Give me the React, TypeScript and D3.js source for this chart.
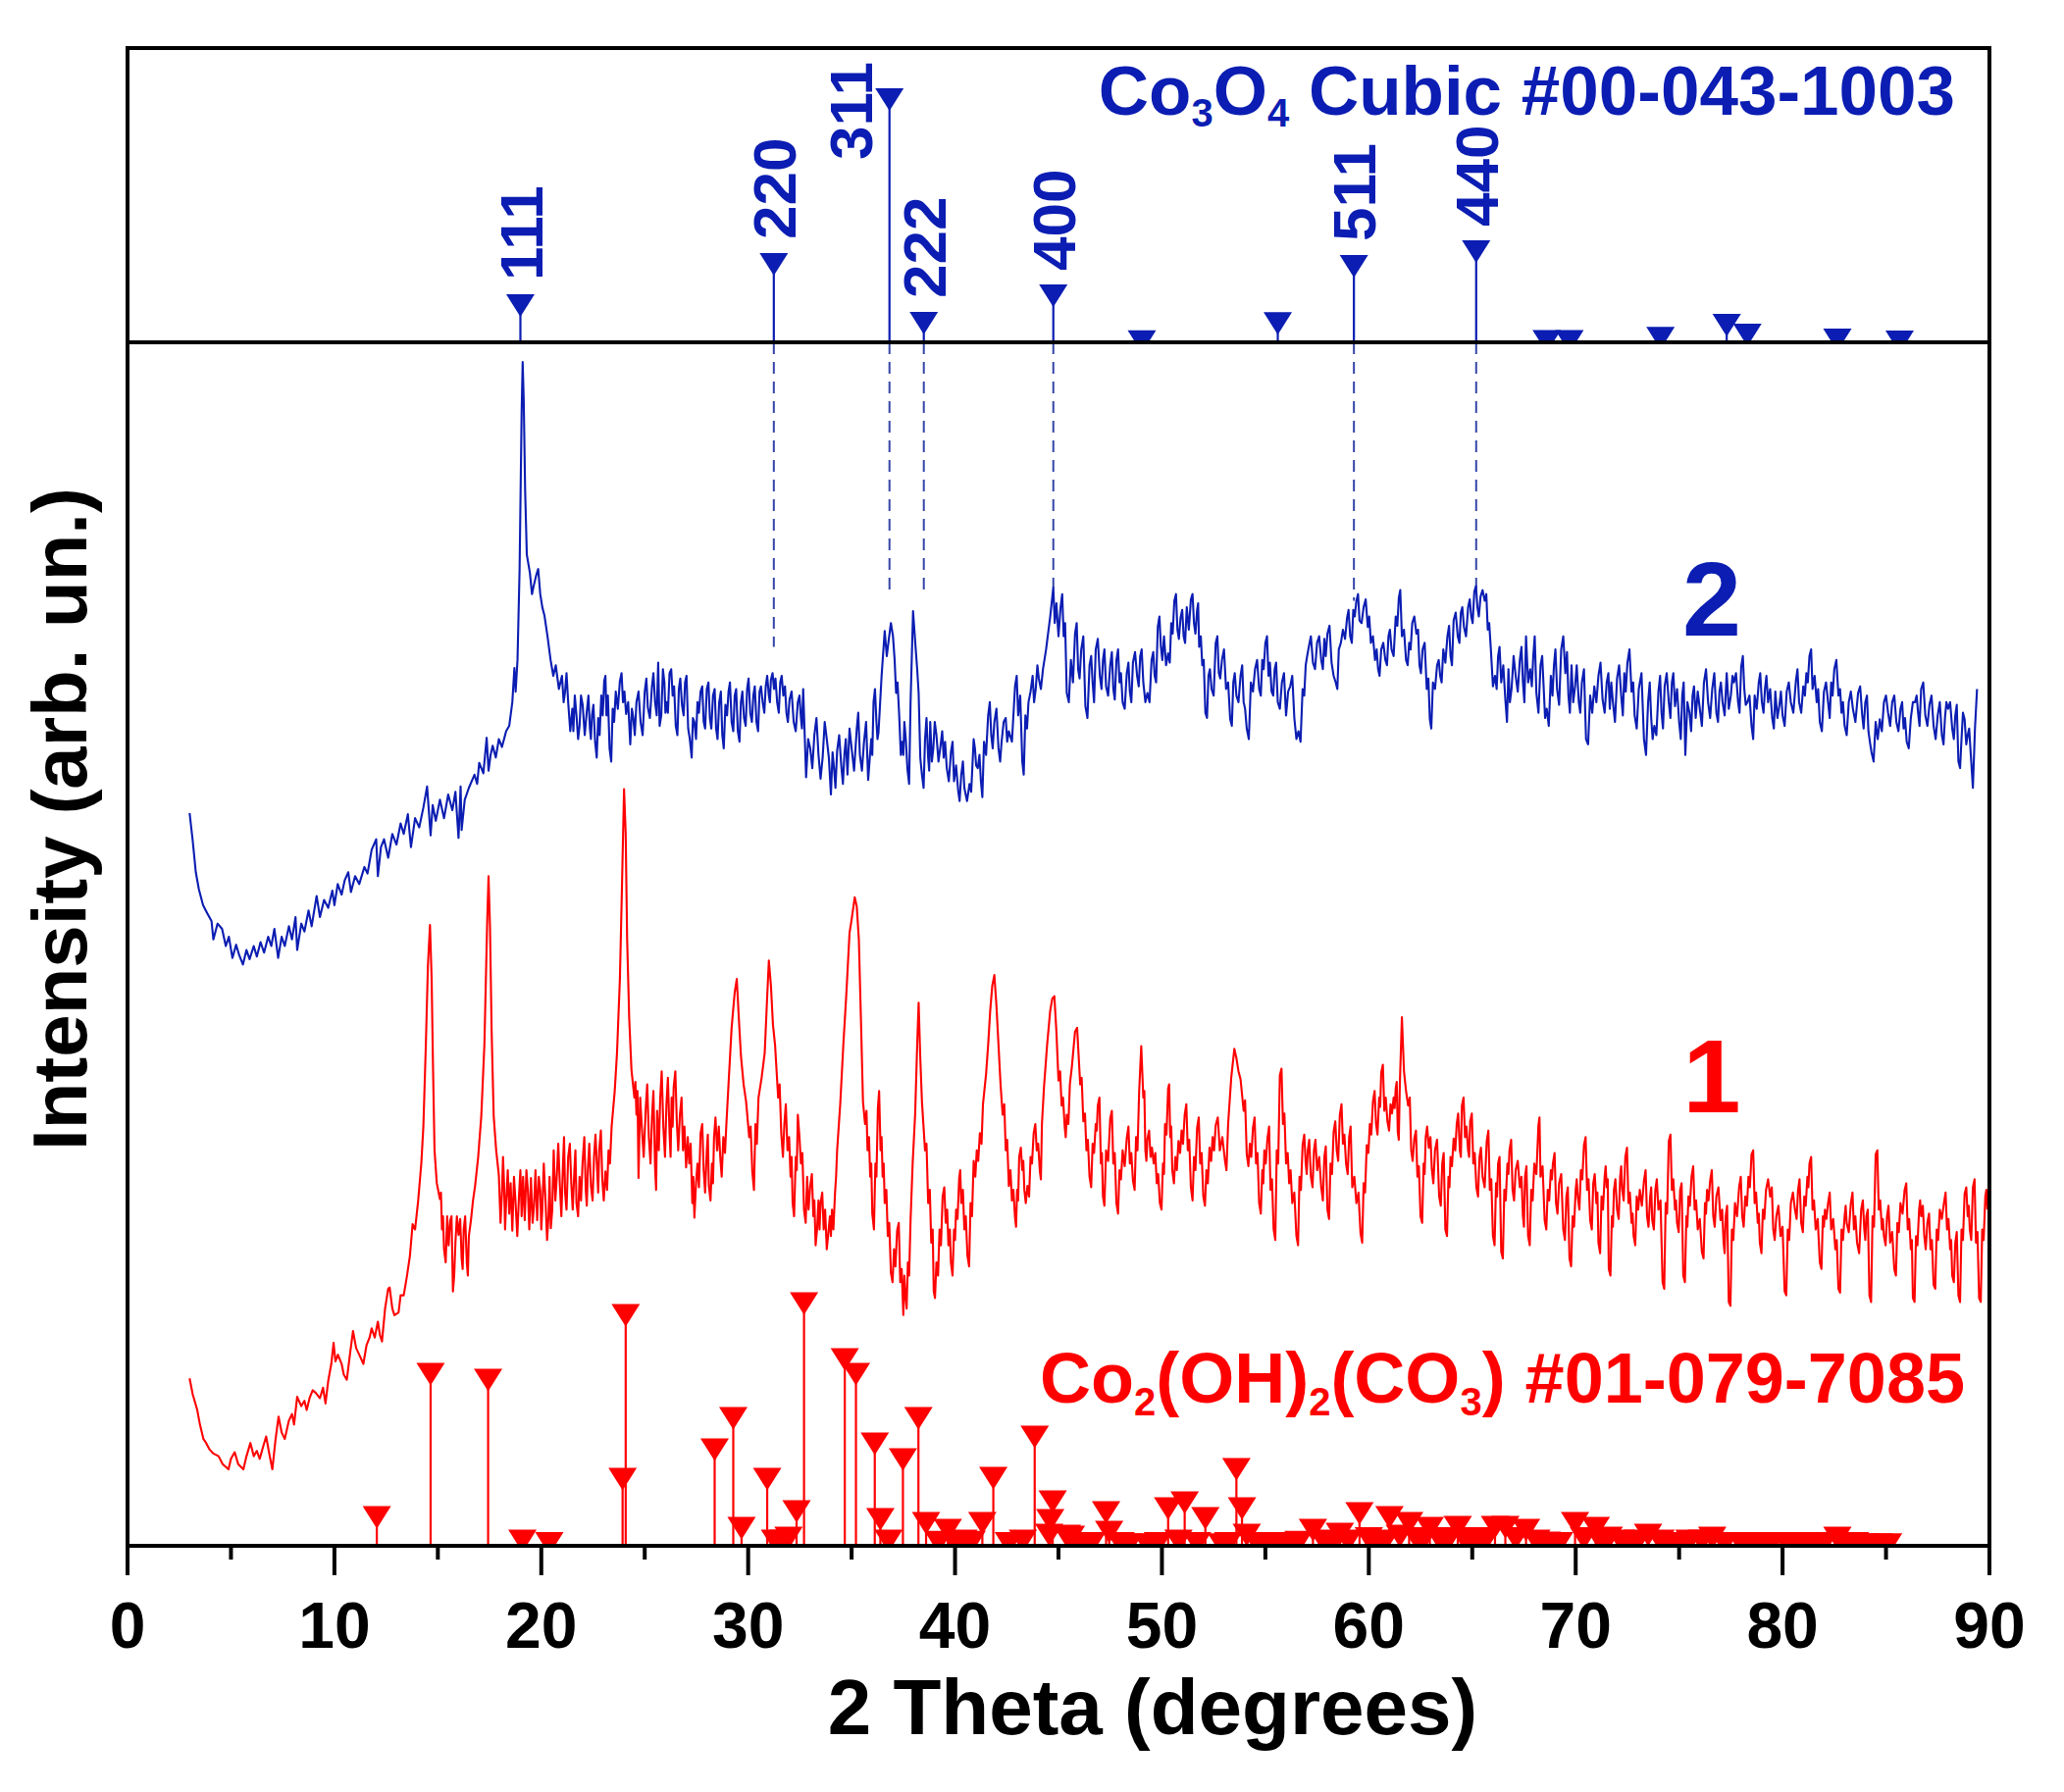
import React from "react";
import * as d3 from "d3";

// ---- sample 2 (Co3O4), 2theta vs intensity (arb. units) ----
const sample2: [number, number][] = [
  [3.0,556],[3.15,535],[3.3,511],[3.45,498],[3.65,486],[3.85,480],[4.06,474],[4.15,460],[4.35,472],[4.57,468],
  [4.75,455],[4.9,462],[5.07,446],[5.25,456],[5.4,448],[5.58,441],[5.75,452],[5.9,445],[6.1,455],[6.25,447],
  [6.43,458],[6.6,450],[6.8,462],[6.95,455],[7.1,468],[7.28,446],[7.45,462],[7.6,455],[7.8,470],[7.95,460],
  [8.12,477],[8.2,452],[8.4,472],[8.55,466],[8.75,482],[8.9,470],[9.14,493],[9.3,477],[9.5,490],[9.7,484],
  [9.9,497],[10.0,486],[10.16,502],[10.35,494],[10.5,505],[10.67,511],[10.8,496],[11.0,508],[11.2,502],[11.45,515],
  [11.6,510],[11.8,528],[12.02,536],[12.1,508],[12.25,530],[12.4,536],[12.6,522],[12.8,540],[13.0,532],[13.2,548],
  [13.35,540],[13.55,555],[13.7,530],[13.9,552],[14.1,545],[14.3,560],[14.48,576],[14.65,539],[14.75,562],[14.9,550],
  [15.1,566],[15.3,552],[15.5,570],[15.7,558],[15.85,572],[16.0,537],[16.1,576],[16.15,543],[16.3,566],[16.5,575],
  [16.77,585],[16.9,578],[17.0,594],[17.2,586],[17.36,613],[17.45,588],[17.55,600],[17.65,607],[17.8,598],[17.95,612],
  [18.1,606],[18.3,618],[18.45,622],[18.6,640],[18.7,666],[18.76,648],[18.85,672],[18.95,740],[19.05,860],[19.1,898],
  [19.15,870],[19.22,800],[19.3,752],[19.45,738],[19.55,722],[19.63,728],[19.75,736],[19.85,741],[19.95,722],[20.05,712],
  [20.15,706],[20.3,690],[20.45,672],[20.58,660],[20.7,668],[20.85,650],[21.0,660],[21.15,648],[21.3,640],[21.5,635],
  [21.55,618],[21.7,630],[21.85,622],[22.0,638],[22.2,633],[22.35,620],[22.45,630],[22.6,610],[22.75,628],[22.9,645],
  [23.04,656],[23.15,630],[23.3,605],[23.45,635],[23.6,648],[23.8,656],[23.95,640],[24.1,631],[24.3,608],[24.45,628],
  [24.6,640],[24.8,625],[25.0,648],[25.15,636],[25.35,652],[25.5,640],[25.65,670],[25.8,630],[25.95,655],[26.05,640],
  [26.2,662],[26.35,645],[26.5,622],[26.65,650],[26.8,638],[26.95,655],[27.1,620],[27.27,598],[27.4,625],[27.55,640],
  [27.7,648],[27.85,625],[28.0,650],[28.15,628],[28.3,645],[28.45,620],[28.6,640],[28.75,615],[28.9,638],[29.05,648],
  [29.2,625],[29.35,645],[29.5,618],[29.65,640],[29.8,628],[29.95,650],[30.1,632],[30.25,645],[30.4,625],[30.55,648],
  [30.7,640],[30.85,652],[31.0,645],[31.1,657],[31.25,650],[31.4,640],[31.55,655],[31.7,645],[31.85,632],[32.0,642],
  [32.2,625],[32.4,640],[32.55,628],[32.66,650],[32.8,583],[33.0,605],[33.2,615],[33.4,600],[33.6,598],[33.8,612],
  [34.0,570],[34.15,590],[34.3,603],[34.5,592],[34.65,600],[34.8,585],[35.0,605],[35.25,620],[35.4,600],[35.6,610],
  [35.8,581],[35.95,612],[36.06,640],[36.2,625],[36.3,617],[36.45,660],[36.6,694],[36.8,688],[37.0,690],[37.15,647],
  [37.3,630],[37.45,610],[37.55,625],[37.7,589],[37.85,640],[37.97,709],[38.1,680],[38.24,647],[38.4,585],[38.55,612],
  [38.7,598],[38.8,625],[38.95,605],[39.1,615],[39.3,607],[39.45,598],[39.6,590],[39.8,602],[39.95,580],[40.15,573],
  [40.3,585],[40.45,575],[40.7,578],[40.85,595],[40.96,605],[41.1,590],[41.25,580],[41.4,610],[41.6,630],[41.75,615],
  [41.9,625],[42.1,605],[42.25,610],[42.45,628],[42.6,618],[42.9,652],[43.05,630],[43.25,595],[43.4,630],[43.55,640],
  [43.75,660],[43.9,650],[44.05,658],[44.25,665],[44.4,680],[44.6,705],[44.75,727],[44.9,715],[45.1,712],[45.25,690],
  [45.4,647],[45.6,672],[45.8,692],[45.95,665],[46.1,680],[46.3,637],[46.5,668],[46.65,655],[46.8,680],[47.0,660],
  [47.15,672],[47.3,652],[47.5,668],[47.65,650],[47.8,672],[47.95,655],[48.1,640],[48.3,662],[48.45,648],[48.6,670],
  [48.8,660],[48.95,675],[49.1,655],[49.3,647],[49.5,672],[49.65,660],[49.8,697],[49.95,682],[50.1,690],[50.3,677],
  [50.45,700],[50.6,717],[50.75,695],[50.9,704],[51.05,690],[51.2,712],[51.4,718],[51.55,700],[51.7,710],[51.8,682],
  [51.95,668],[52.1,632],[52.25,660],[52.4,650],[52.6,685],[52.75,662],[52.9,672],[53.1,650],[53.3,627],[53.45,655],
  [53.6,645],[53.8,660],[53.95,640],[54.1,620],[54.3,655],[54.5,665],[54.7,650],[54.85,672],[55.0,685],[55.15,660],
  [55.3,648],[55.45,665],[55.6,640],[55.8,655],[56.0,630],[56.2,652],[56.4,628],[56.6,618],[56.8,650],[56.95,668],
  [57.1,682],[57.3,670],[57.5,685],[57.7,672],[57.85,688],[58.0,692],[58.2,670],[58.4,655],[58.55,680],[58.75,695],
  [58.95,704],[59.1,690],[59.25,710],[59.4,717],[59.55,702],[59.75,712],[59.95,697],[60.1,685],[60.3,672],[60.45,665],
  [60.6,680],[60.8,672],[60.95,690],[61.1,680],[61.3,705],[61.45,719],[61.6,690],[61.8,672],[61.95,685],[62.1,700],
  [62.3,692],[62.45,668],[62.6,680],[62.8,650],[62.95,627],[63.1,655],[63.3,668],[63.45,660],[63.6,680],[63.8,690],
  [63.95,675],[64.1,702],[64.3,690],[64.45,708],[64.6,697],[64.8,712],[64.95,705],[65.1,724],[65.25,712],[65.4,720],
  [65.6,717],[65.75,695],[65.9,680],[66.1,660],[66.25,675],[66.4,655],[66.6,642],[66.75,665],[66.9,650],[67.1,660],
  [67.3,672],[67.45,655],[67.6,690],[67.8,665],[67.95,675],[68.1,647],[68.3,668],[68.45,652],[68.6,635],[68.8,660],
  [68.95,668],[69.1,650],[69.3,680],[69.5,662],[69.65,645],[69.8,668],[69.97,652],[70.15,640],[70.3,655],[70.5,612],
  [70.7,645],[70.9,652],[71.1,660],[71.3,642],[71.5,655],[71.65,635],[71.8,640],[72.0,658],[72.2,645],[72.35,662],
  [72.5,670],[72.7,648],[72.85,630],[73.05,650],[73.3,612],[73.5,640],[73.65,628],[73.8,622],[74.0,648],[74.15,632],
  [74.3,652],[74.5,640],[74.65,655],[74.8,637],[75.0,625],[75.15,645],[75.3,600],[75.5,632],[75.65,645],[75.8,628],
  [76.0,635],[76.2,655],[76.4,640],[76.6,650],[76.8,632],[76.95,648],[77.1,640],[77.3,662],[77.5,645],[77.65,655],
  [77.85,640],[78.0,667],[78.15,650],[78.3,640],[78.5,622],[78.65,645],[78.85,655],[79.0,640],[79.15,650],[79.3,640],
  [79.5,628],[79.65,648],[79.85,638],[80.0,630],[80.2,648],[80.4,640],[80.65,657],[80.8,640],[81.0,652],[81.15,662],
  [81.3,675],[81.45,650],[81.65,640],[81.8,625],[82.0,648],[82.2,640],[82.35,655],[82.5,665],[82.7,645],[82.85,632],
  [83.0,622],[83.2,640],[83.4,635],[83.65,647],[83.85,630],[84.0,640],[84.15,618],[84.3,602],[84.5,625],[84.7,627],
  [84.9,640],[85.1,632],[85.3,640],[85.5,625],[85.7,635],[85.85,620],[86.0,610],[86.2,628],[86.4,640],[86.55,632],
  [86.7,650],[86.9,630],[87.1,638],[87.3,622],[87.5,630],[87.7,615],[87.85,628],[88.0,635],[88.2,620],[88.35,630],
  [88.5,595],[88.65,612],[88.8,627],[88.95,615],[89.1,600],[89.2,575],[89.3,620],[89.4,650],
];

// finer noise readings of sample 2 between the points above
const sample2Fine: [number, number][] = [
  [21.08,640],[21.22,662],[21.4,618],[21.62,645],[21.78,612],[21.92,645],[22.1,615],[22.28,645],[22.4,612],[22.52,638],
  [22.68,598],[22.82,615],[22.97,630],[23.1,660],[23.22,645],[23.38,595],[23.52,625],[23.7,635],[23.88,662],[24.02,648],
  [24.2,640],[24.38,635],[24.52,615],[24.7,648],[24.9,615],[25.08,658],[25.25,628],[25.42,662],[25.58,630],[25.72,622],
  [25.88,665],[26.0,632],[26.12,632],[26.28,665],[26.42,652],[26.58,615],[26.72,658],[26.88,630],[27.02,660],[27.18,612],
  [27.33,628],[27.48,612],[27.62,632],[27.78,652],[27.92,620],[28.08,655],[28.22,620],[28.38,650],[28.52,612],[28.68,648],
  [28.82,605],[28.98,630],[29.12,655],[29.28,618],[29.42,650],[29.58,610],[29.72,648],[29.88,622],[30.02,658],[30.18,625],
  [30.32,652],[30.48,618],[30.62,652],[30.78,632],[30.92,660],[31.05,640],[31.18,662],[31.32,658],[31.48,632],[31.62,660],
  [31.78,652],[31.92,625],[32.1,648],[32.3,618],[32.48,645],[32.6,620],
  [32.9,612],[33.1,590],[33.3,628],[33.5,582],[33.7,625],[33.9,598],[34.08,602],[34.22,575],[34.4,615],[34.58,578],
  [34.72,612],[34.9,620],[35.12,588],[35.32,632],[35.5,588],[35.7,625],[35.88,598],[36.0,600],[36.13,650],[36.25,612],
  [36.7,675],[36.9,700],[37.08,672],[37.22,655],[37.38,600],[37.5,600],[37.62,612],[37.78,578],[38.17,665],[38.32,598],
  [38.48,575],[38.62,628],[38.75,588],[38.88,595],[39.02,625],[39.2,595],[39.38,618],[39.52,610],[39.7,580],[39.88,610],
  [40.05,592],[40.22,565],[40.38,595],[40.58,565],[40.78,572],[40.9,612],[41.02,592],[41.18,600],[41.32,568],[41.5,600],
  [41.68,640],[41.82,605],[42.0,635],[42.18,595],[42.35,625],[42.52,610],[42.75,610],[42.98,660],[43.15,645],[43.32,585],
  [43.48,620],[43.65,648],[43.82,640],[43.98,668],[44.15,650],
  [44.82,700],[45.0,690],[45.18,722],[45.32,700],[45.5,640],[45.7,655],[45.88,700],[46.02,658],[46.2,690],[46.4,628],
  [46.58,675],[46.72,640],[46.9,688],[47.08,650],[47.22,680],[47.4,645],[47.58,678],[47.72,642],[47.88,680],[48.02,662],
  [48.2,635],[48.38,670],[48.52,640],[48.7,678],[48.88,652],[49.02,680],[49.2,640],[49.4,640],[49.58,678],[49.72,655],
  [49.88,705],[50.02,672],[50.2,668],[50.38,670],[50.52,692],[50.68,722],[50.82,688],[50.98,710],[51.12,685],[51.3,695],
  [51.48,722],[51.62,692],[51.75,715],[51.88,690],[52.02,672],[52.18,628],[52.32,665],[52.5,645],[52.68,690],[52.82,658],
  [53.0,680],[53.2,655],[53.38,622],[53.52,662],[53.7,640],[53.88,668],[54.02,635],[54.2,612],[54.4,648],[54.6,672],
  [54.78,645],[54.92,665],[55.08,690],[55.22,670],[55.38,645],[55.52,670],[55.7,635],[55.9,662],[56.1,648],[56.3,660],
  [56.5,612],[56.7,610],[56.88,645],[57.02,675],[57.2,690],[57.4,665],[57.6,690],[57.78,665],[57.92,675],[58.1,698],
  [58.3,660],[58.48,650],[58.65,685],[58.85,688],[59.02,710],[59.18,685],[59.32,705],[59.48,722],[59.65,700],[59.85,718],
  [60.02,705],[60.2,690],[60.38,680],[60.52,660],[60.7,685],[60.88,668],[61.02,695],[61.2,675],[61.38,698],[61.52,725],
  [61.7,695],[61.88,668],[62.02,680],[62.2,705],[62.38,695],[62.52,662],[62.7,685],[62.88,658],[63.02,620],[63.2,650],
  [63.38,672],[63.52,655],[63.7,670],[63.88,698],[64.02,668],[64.2,708],[64.38,685],[64.52,712],[64.7,690],[64.88,718],
  [65.02,700],[65.18,728],[65.32,705],[65.5,725],[65.68,722],[65.82,700],
  [66.0,652],[66.18,650],[66.32,682],[66.5,668],[66.68,625],[66.82,640],[67.0,675],[67.2,648],[67.38,682],[67.52,640],
  [67.7,655],[67.88,652],[68.02,690],[68.2,632],[68.38,675],[68.52,628],[68.7,622],[68.88,645],[69.02,680],[69.2,638],
  [69.4,690],[69.58,678],[69.72,632],[69.88,640],[70.05,668],[70.22,632],[70.4,665],[70.6,608],[70.8,632],[71.0,640],
  [71.2,670],[71.4,632],[71.58,662],[71.72,655],[71.9,625],[72.1,668],[72.28,630],[72.42,648],[72.6,680],[72.78,655],
  [72.95,620],[73.18,662],[73.4,600],[73.58,655],[73.72,612],[73.9,615],[74.08,660],[74.22,620],[74.4,662],[74.58,628],
  [74.72,662],[74.9,650],[75.08,612],[75.22,655],[75.4,640],[75.58,618],[75.72,652],[75.9,648],[76.1,622],[76.3,665],
  [76.5,628],[76.7,662],[76.88,625],[77.02,655],[77.2,630],[77.4,635],[77.58,660],[77.75,662],[77.92,632],[78.08,675],
  [78.22,638],[78.4,645],[78.58,612],[78.75,635],[78.92,662],[79.08,632],[79.22,660],[79.4,650],[79.58,620],[79.75,628],
  [79.92,648],[80.1,622],[80.3,655],[80.52,632],[80.72,665],[80.9,632],[81.08,645],[81.22,655],[81.38,680],[81.55,660],
  [81.72,650],[81.9,618],[82.1,655],[82.28,628],[82.42,645],[82.6,672],[82.78,650],[82.92,640],[83.1,615],[83.3,648],
  [83.52,625],[83.75,652],[83.92,620],[84.08,645],[84.22,610],[84.4,595],[84.6,612],[84.8,618],[85.0,645],[85.2,622],
  [85.4,645],[85.6,618],[85.78,640],[85.92,628],[86.1,605],[86.3,640],[86.48,645],[86.62,622],[86.8,655],[87.0,622],
  [87.2,645],[87.4,612],[87.6,640],[87.78,608],[87.92,640],[88.1,640],[88.28,612],[88.42,638],[88.58,590],[88.72,632],
  [88.88,608],[89.02,620],
];

// ---- sample 1 (Co2(OH)2CO3) ----
const sample1: [number, number][] = [
  [3.0,127],[3.15,115],[3.37,103],[3.5,92],[3.67,81],[3.8,78],[3.97,73],[4.15,70],[4.4,68],[4.6,62],
  [4.88,58],[5.0,66],[5.18,71],[5.35,62],[5.6,58],[5.75,68],[5.94,78],[6.1,68],[6.25,72],[6.39,66],
  [6.55,75],[6.7,83],[6.85,70],[7.0,58],[7.15,80],[7.3,98],[7.45,86],[7.6,81],[7.8,95],[7.95,100],
  [8.05,92],[8.2,113],[8.4,106],[8.55,110],[8.66,103],[8.8,112],[8.95,118],[9.1,116],[9.3,112],[9.45,120],
  [9.57,108],[9.7,125],[9.85,138],[9.96,154],[10.05,140],[10.17,145],[10.35,138],[10.45,130],[10.6,126],[10.75,145],
  [10.9,163],[11.05,150],[11.2,145],[11.4,138],[11.55,152],[11.7,158],[11.8,165],[11.95,158],[12.1,170],[12.2,160],
  [12.3,155],[12.45,180],[12.6,195],[12.67,196],[12.8,180],[12.9,175],[13.1,177],[13.2,190],[13.35,190],[13.5,204],
  [13.65,220],[13.78,244],[13.9,240],[14.05,262],[14.2,290],[14.3,318],[14.42,380],[14.52,440],[14.62,471],[14.7,430],
  [14.77,360],[14.84,300],[14.95,275],[15.1,263],[15.2,240],[15.3,225],[15.45,250],[15.6,247],[15.73,193],[15.85,230],
  [16.0,236],[16.15,218],[16.25,240],[16.4,215],[16.5,235],[16.6,247],[16.7,262],[16.8,273],[16.95,295],[17.1,326],
  [17.25,380],[17.38,470],[17.45,508],[17.52,470],[17.6,390],[17.7,326],[17.82,300],[17.95,281],[18.1,268],[18.2,275],
  [18.3,260],[18.45,252],[18.6,239],[18.75,262],[18.93,268],[19.05,250],[19.2,247],[19.35,270],[19.5,279],[19.65,258],
  [19.8,247],[19.95,270],[20.05,255],[20.2,263],[20.35,250],[20.46,241],[20.6,300],[20.75,280],[20.9,273],[21.05,290],
  [21.15,268],[21.3,295],[21.45,275],[21.6,285],[21.7,260],[21.85,280],[22.0,292],[22.15,270],[22.25,285],[22.4,273],
  [22.55,295],[22.7,285],[22.8,300],[22.95,278],[23.1,284],[23.25,300],[23.4,318],[23.55,345],[23.66,374],[23.8,430],
  [23.9,500],[24.0,574],[24.08,540],[24.15,460],[24.25,400],[24.36,361],[24.5,340],[24.6,327],[24.7,279],[24.85,320],
  [25.05,332],[25.2,310],[25.35,325],[25.5,287],[25.6,330],[25.75,340],[25.9,318],[26.05,335],[26.2,313],[26.3,340],
  [26.4,348],[26.55,322],[26.7,327],[26.85,300],[27.0,287],[27.15,290],[27.3,260],[27.4,249],[27.55,290],[27.7,313],
  [27.85,285],[28.0,300],[28.1,273],[28.25,290],[28.35,310],[28.5,300],[28.65,295],[28.8,310],[28.95,321],[29.05,350],
  [29.2,393],[29.35,420],[29.45,430],[29.55,400],[29.65,372],[29.78,350],[29.9,337],[30.05,310],[30.2,284],[30.35,320],
  [30.5,340],[30.65,355],[30.8,374],[30.9,410],[31.0,444],[31.1,425],[31.2,395],[31.3,380],[31.45,340],[31.6,313],
  [31.75,320],[31.9,300],[32.05,280],[32.15,260],[32.3,295],[32.4,327],[32.55,290],[32.7,255],[32.85,280],[33.0,273],
  [33.15,250],[33.26,228],[33.4,262],[33.5,260],[33.65,240],[33.8,225],[33.95,250],[34.05,255],[34.2,268],[34.3,300],
  [34.45,335],[34.6,380],[34.75,420],[34.9,465],[35.0,475],[35.15,492],[35.25,485],[35.35,460],[35.45,400],[35.55,337],
  [35.65,320],[35.77,300],[35.9,280],[36.0,252],[36.15,290],[36.27,332],[36.4,300],[36.5,280],[36.6,260],[36.75,235],
  [36.9,207],[37.05,225],[37.2,239],[37.35,200],[37.5,175],[37.6,190],[37.72,215],[37.85,247],[37.95,290],[38.07,327],
  [38.17,380],[38.24,412],[38.32,370],[38.4,337],[38.55,300],[38.7,260],[38.85,230],[38.97,193],[39.1,215],[39.25,240],
  [39.4,265],[39.55,245],[39.68,228],[39.8,215],[39.95,240],[40.05,255],[40.2,279],[40.3,260],[40.45,240],[40.6,220],
  [40.75,260],[40.9,292],[41.05,300],[41.2,313],[41.35,335],[41.5,358],[41.6,380],[41.7,406],[41.8,425],[41.9,433],
  [42.0,410],[42.1,380],[42.2,350],[42.3,327],[42.45,300],[42.6,273],[42.75,262],[42.9,249],[43.0,270],[43.1,295],
  [43.25,285],[43.35,270],[43.5,273],[43.65,295],[43.8,313],[43.95,300],[44.1,284],[44.2,320],[44.3,348],[44.45,380],
  [44.6,406],[44.7,415],[44.8,417],[44.9,390],[45.0,353],[45.15,334],[45.3,318],[45.4,327],[45.55,350],[45.65,364],
  [45.8,390],[45.9,393],[46.05,350],[46.2,322],[46.35,300],[46.5,280],[46.65,305],[46.8,320],[46.9,334],[47.05,290],
  [47.15,265],[47.3,300],[47.5,324],[47.65,290],[47.8,260],[47.95,285],[48.1,300],[48.3,309],[48.45,290],[48.6,277],
  [48.75,310],[48.9,345],[49.0,379],[49.1,340],[49.2,300],[49.3,309],[49.45,295],[49.6,290],[49.75,275],[49.9,260],
  [50.05,290],[50.15,320],[50.3,347],[50.4,310],[50.5,285],[50.65,295],[50.8,307],[50.95,315],[51.1,327],[51.25,300],
  [51.4,272],[51.55,295],[51.7,317],[51.85,290],[52.0,265],[52.15,285],[52.3,302],[52.45,310],[52.6,319],[52.8,300],
  [53.05,292],[53.2,320],[53.35,355],[53.5,377],[53.6,370],[53.7,360],[53.8,354],[53.95,330],[54.1,297],[54.25,305],
  [54.4,317],[54.55,290],[54.7,260],[54.85,285],[54.95,300],[55.1,309],[55.25,270],[55.4,240],[55.55,300],[55.7,357],
  [55.85,320],[56.0,290],[56.15,275],[56.3,260],[56.5,235],[56.65,280],[56.8,304],[56.95,290],[57.05,300],[57.2,280],
  [57.35,300],[57.5,285],[57.7,272],[57.85,295],[58.0,255],[58.15,290],[58.3,314],[58.45,300],[58.6,327],[58.75,305],
  [58.9,290],[59.05,310],[59.2,272],[59.4,260],[59.6,237],[59.75,275],[59.9,304],[60.05,320],[60.2,337],[60.35,320],
  [60.5,340],[60.6,359],[60.75,330],[60.9,322],[61.05,335],[61.2,340],[61.3,347],[61.4,314],[61.5,350],[61.6,401],
  [61.7,360],[61.8,345],[61.9,334],[62.05,300],[62.2,309],[62.35,280],[62.5,250],[62.65,290],[62.75,310],[62.9,302],
  [63.05,285],[63.2,300],[63.4,265],[63.55,290],[63.7,240],[63.85,280],[63.95,295],[64.1,309],[64.25,320],[64.4,300],
  [64.5,334],[64.65,310],[64.8,300],[64.9,322],[65.05,290],[65.2,272],[65.35,295],[65.5,280],[65.7,307],[65.85,270],
  [66.0,235],[66.15,275],[66.25,290],[66.4,223],[66.55,270],[66.7,290],[66.8,300],[66.95,270],[67.1,285],[67.3,272],
  [67.45,250],[67.55,280],[67.7,235],[67.85,270],[68.0,290],[68.2,319],[68.3,280],[68.5,247],[68.65,270],[68.8,285],
  [68.9,290],[69.05,260],[69.2,275],[69.4,240],[69.55,265],[69.7,218],[69.85,250],[70.0,270],[70.1,265],[70.25,285],
  [70.4,304],[70.55,270],[70.7,247],[70.85,275],[71.0,260],[71.1,230],[71.25,265],[71.4,280],[71.5,272],[71.6,210],
  [71.75,250],[71.85,270],[72.0,255],[72.15,280],[72.25,270],[72.4,295],[72.55,260],[72.7,245],[72.8,235],[72.95,265],
  [73.1,270],[73.3,277],[73.45,250],[73.6,265],[73.7,247],[73.85,270],[74.0,255],[74.2,200],[74.35,260],[74.5,307],
  [74.65,270],[74.8,255],[74.9,245],[75.05,270],[75.2,205],[75.35,250],[75.45,265],[75.6,280],[75.75,255],[75.9,240],
  [76.1,223],[76.25,260],[76.35,270],[76.5,277],[76.65,250],[76.8,265],[77.0,247],[77.15,230],[77.25,250],[77.4,185],
  [77.55,240],[77.7,260],[77.9,272],[78.05,250],[78.2,265],[78.35,280],[78.5,297],[78.65,260],[78.8,245],[78.9,230],
  [79.05,255],[79.2,270],[79.4,265],[79.55,240],[79.7,250],[79.9,235],[80.1,193],[80.25,240],[80.4,260],[80.6,255],
  [80.75,270],[80.9,245],[81.05,265],[81.2,280],[81.3,290],[81.45,255],[81.6,240],[81.8,215],[81.95,250],[82.05,255],
  [82.2,260],[82.35,240],[82.55,225],[82.7,195],[82.85,240],[83.0,250],[83.1,245],[83.3,260],[83.45,240],[83.6,230],
  [83.8,255],[83.95,240],[84.05,250],[84.2,190],[84.35,250],[84.5,297],[84.65,255],[84.8,240],[84.9,235],[85.05,250],
  [85.2,230],[85.4,210],[85.55,245],[85.7,260],[85.9,270],[86.05,240],[86.2,225],[86.3,188],[86.45,235],[86.6,255],
  [86.7,250],[86.85,235],[87.0,245],[87.15,225],[87.3,198],[87.45,240],[87.6,255],[87.8,260],[87.95,240],[88.1,225],
  [88.2,205],[88.35,230],[88.5,190],[88.65,240],[88.8,267],[88.95,250],[89.05,240],[89.2,272],[89.35,230],[89.5,188],
  [89.65,240],[89.8,265],[89.9,255],
];

// finer noise readings of sample 1 between the points above
const sample1Fine: [number, number][] = [
  [15.15,268],[15.25,250],[15.38,215],[15.52,228],[15.66,250],[15.79,205],[15.92,250],[16.08,248],[16.2,210],[16.32,250],[16.45,205],
  [18.03,245],[18.15,295],[18.25,240],[18.38,285],[18.52,275],[18.68,280],[18.84,235],[18.99,285],[19.12,280],[19.28,285],
  [19.42,240],[19.58,245],[19.72,285],[19.88,280],[20.0,240],[20.12,290],[20.28,232],[20.4,280],[20.53,255],[20.68,262],
  [20.82,305],[20.97,250],[21.1,310],[21.22,255],[21.38,305],[21.52,255],[21.65,300],[21.78,250],[21.92,262],[22.08,310],
  [22.2,258],[22.32,305],[22.48,262],[22.62,312],[22.75,268],[22.88,315],[23.02,262],[23.18,270],[23.32,290],
  [24.55,352],[24.65,345],[24.78,340],[24.95,295],[25.12,350],[25.28,290],[25.42,345],[25.55,270],[25.68,300],[25.82,360],
  [25.98,295],[26.12,355],[26.25,295],[26.35,318],[26.48,360],[26.62,300],[26.78,340],[26.92,318],[27.08,310],[27.22,305],
  [27.35,280],[27.48,275],[27.62,272],[27.78,320],[27.92,268],[28.05,312],[28.18,262],[28.3,275],[28.42,325],[28.58,318],
  [28.72,280],[28.88,298],
  [30.12,318],[30.28,270],[30.42,305],[31.52,350],[31.68,295],[31.82,335],[31.98,310],[32.1,295],[32.22,250],[32.35,285],
  [32.48,310],[32.62,298],[32.78,245],[32.92,255],[33.08,282],[33.2,262],[33.33,240],[33.45,240],[33.58,268],[33.72,255],
  [33.88,238],[34.0,235],[34.12,240],[34.25,280],
  [35.72,330],[35.84,310],[35.95,290],[36.08,240],[36.2,280],[36.33,345],[36.45,310],[36.55,290],[36.68,270],[36.82,245],
  [36.98,200],[37.12,212],[37.28,245],[37.42,210],[37.55,205],[37.66,180],[37.78,205],
  [38.62,305],[38.78,270],[38.92,240],[39.03,188],[39.18,205],[39.32,228],[39.48,272],[39.62,255],[39.75,240],[39.88,205],
  [40.0,232],[40.12,248],[40.25,285],[40.38,270],[40.52,250],[40.68,212],[40.82,250],[40.98,280],[41.12,292],[41.28,305],
  [42.38,335],[42.52,308],[42.68,285],[42.82,270],[42.95,242],[43.05,262],[43.18,302],[43.3,292],[43.42,260],[43.58,265],
  [43.72,290],[43.88,320],[44.02,305],[44.15,278],
  [45.08,360],[45.22,340],[45.35,310],[45.48,320],[46.12,355],[46.28,328],[46.42,308],[46.58,272],[46.72,298],[46.85,315],
  [46.98,340],[47.1,298],[47.22,258],[47.4,292],[47.58,330],[47.72,298],[47.88,252],[48.02,278],[48.2,288],[48.38,318],
  [48.52,298],[48.68,270],[48.82,300],
  [49.15,345],[49.25,292],[49.38,315],[49.52,302],[49.68,298],[49.82,282],[49.98,255],[50.1,282],[50.22,312],[50.35,350],
  [50.45,318],[50.58,275],[50.72,285],[50.88,298],[51.02,305],[51.18,335],[51.32,308],[51.48,262],[51.62,285],[51.78,325],
  [51.92,298],[52.08,258],[52.22,275],[52.38,292],[52.52,300],[52.7,325],[52.92,310],[53.12,285],
  [54.02,338],[54.18,288],[54.32,295],[54.48,325],[54.62,298],[54.78,252],[54.9,275],[55.02,290],[55.18,318],[55.32,278],
  [55.48,232],[55.62,290],[55.78,362],[55.92,328],[56.08,298],[56.22,285],[56.4,268],[56.58,228],[56.72,270],[56.88,312],
  [57.0,282],[57.12,308],[57.28,272],[57.42,308],[57.6,295],[57.78,262],[57.92,303],[58.08,248],[58.22,282],[58.38,322],
  [58.52,292],[58.68,335],[58.82,312],[58.98,282],[59.12,318],[59.3,280],[59.5,268],[59.68,230],[59.82,268],[59.98,298],
  [60.12,312],[60.28,345],[60.42,312],[60.55,333],[60.68,365],[60.82,340],[60.98,315],[61.12,328],[61.25,332],[61.35,352],
  [61.45,308],
  [61.98,340],[62.12,292],[62.28,315],[62.42,288],[62.58,245],[62.7,282],[62.82,318],[62.98,310],[63.12,275],[63.3,308],
  [63.48,258],[63.62,298],[63.78,235],[63.9,272],[64.02,288],[64.18,300],[64.32,328],[64.45,295],[64.58,340],[64.72,318],
  [64.85,295],[64.98,328],[65.12,298],[65.28,265],[65.42,302],[65.6,272],[65.78,315],[65.92,278],[66.08,228],[66.2,265],
  [66.32,295],[66.48,218],[66.62,262],[66.75,282],[66.88,308],[67.02,262],[67.2,292],[67.38,280],[67.5,242],[67.62,288],
  [67.78,228],[67.92,262],[68.1,282],[68.25,325],[68.4,288],[68.58,240],[68.72,262],[68.85,278],[68.98,298],[69.12,252],
  [69.3,282],[69.48,232],[69.62,272],[69.78,212],[69.92,242],
  [70.05,278],[70.18,255],[70.32,278],[70.48,310],[70.62,278],[70.78,240],[70.92,282],[71.05,268],[71.18,222],[71.32,255],
  [71.45,288],[71.55,278],[71.68,205],[71.8,242],[71.92,278],[72.08,248],[72.2,288],[72.32,262],[72.48,302],[72.62,268],
  [72.75,252],[72.88,228],[73.02,255],[73.2,258],[73.38,285],[73.52,242],[73.65,272],[73.78,240],[73.92,278],[74.1,262],
  [74.28,195],[74.42,252],[74.58,312],[74.72,278],[74.85,262],[74.98,238],[75.12,275],[75.28,200],[75.4,242],[75.52,258],
  [75.68,288],[75.82,262],[76.0,248],[76.18,218],[76.3,252],[76.42,262],[76.58,285],[76.72,242],[76.9,272],[77.08,255],
  [77.2,222],[77.32,258],[77.48,182],[77.62,232],[77.8,250],[77.98,280],[78.12,242],[78.28,258],[78.42,272],[78.58,300],
  [78.72,268],[78.85,252],[78.98,222],[79.12,248],[79.3,278],[79.48,272],[79.62,232],[79.8,258],[80.0,242],
  [80.18,190],[80.32,232],[80.5,268],[80.68,248],[80.82,278],[80.98,238],[81.12,258],[81.25,272],[81.38,295],[81.52,262],
  [81.7,248],[81.88,210],[82.0,242],[82.12,248],[82.28,268],[82.45,248],[82.62,232],[82.78,192],[82.92,232],[83.05,258],
  [83.2,238],[83.38,268],[83.52,250],[83.7,222],[83.88,262],[84.0,232],[84.12,255],[84.28,185],[84.42,242],[84.58,300],
  [84.72,262],[84.85,248],[84.98,228],[85.12,258],[85.3,238],[85.48,205],[85.62,238],[85.8,252],[85.98,275],[86.12,248],
  [86.25,232],[86.38,185],[86.52,228],[86.65,262],[86.78,258],[86.92,225],[87.08,252],[87.22,232],[87.38,195],[87.52,232],
  [87.7,248],[87.88,268],[88.02,248],[88.15,232],[88.28,200],[88.42,238],[88.58,185],[88.72,232],[88.88,272],[89.0,258],
  [89.12,232],[89.28,278],[89.42,238],[89.58,185],[89.72,232],[89.85,270],
];

// ---- Co3O4 cubic reference #00-043-1003 ----
const co3o4Theta = [18.99, 31.24, 36.83, 38.49, 44.75, 49.03, 55.6, 59.28, 65.19, 68.6, 69.7, 74.1, 77.3, 78.3, 82.65, 85.66];
const co3o4Int = [15.2, 32.1, 100, 7.9, 19.2, 0.3, 7.8, 31.3, 37.4, 0.4, 0.4, 1.7, 7.1, 3.0, 1.0, 0.2];
const co3o4Hkl = ["111", "220", "311", "222", "400", "", "", "511", "440", "", "", "", "", "", "", ""];
// where the dashed guide meets the pattern of sample 2 (same units as sample2)
const co3o4DashTo: (number | null)[] = [null, 682, 722, 721, 727, null, null, 717, 725, null, null, null, null, null, null, null];

// ---- Co2(OH)2(CO3) reference #01-079-7085 ----
const hydroTheta = [
  12.05, 14.65, 17.43, 19.09, 20.39, 23.93, 24.08, 28.38, 29.28, 29.68, 30.92, 31.3, 31.7, 31.95, 32.34, 32.7,
  34.67, 35.21, 36.12, 36.39, 36.78, 37.48, 38.23, 38.6, 39.2, 39.65, 40.0, 40.4, 40.8, 41.32, 41.85, 42.6,
  43.28, 43.85, 44.55, 44.6, 44.72, 45.4, 45.6, 46.1, 46.6, 47.3, 47.45, 48.0, 48.4, 49.3, 49.8, 50.3,
  50.8, 51.1, 51.7, 52.1, 52.9, 53.2, 53.6, 53.87, 54.1, 54.6, 55.3, 55.8, 56.1, 56.6, 57.3, 57.8,
  58.2, 58.6, 59.0, 59.55, 60.0, 60.45, 60.8, 61.0, 61.5, 61.95, 62.3, 62.6, 62.95, 63.4, 63.8, 64.3,
  64.6, 64.95, 65.3, 65.7, 66.1, 66.6, 67.1, 67.6, 68.1, 68.6, 69.2, 69.97, 70.4, 70.97, 71.2, 71.6,
  72.2, 72.8, 73.0, 73.5, 74.1, 74.6, 75.0, 75.5, 76.1, 76.6, 77.2, 78.0, 78.5, 79.0, 79.5, 80.2,
  80.65, 81.0, 81.6, 82.0, 82.65, 83.1, 83.5, 84.0, 84.65, 85.1,
];
const hydroInt = [
  11.7, 70.9, 68.4, 2, 1, 27.5, 95.1, 39.7, 52.6, 7.3, 27.5, 2, 2, 3.2, 14.2, 100,
  76.9, 70.9, 42.1, 10.9, 2, 35.6, 52.6, 9.3, 1.5, 6.5, 1, 2, 1.5, 9.3, 27.9, 1,
  2, 44.9, 4.5, 10.5, 18.2, 4, 3.6, 0.5, 1, 13.8, 5.7, 1, 0.5, 0.5, 1, 15.4,
  2, 17.8, 1, 11.3, 0.5, 1, 31.6, 15.4, 4.5, 1, 0.5, 1, 0.5, 1.5, 6.5, 2,
  1, 4.9, 2, 13.4, 3, 0.5, 2, 11.7, 4, 9.3, 3, 2, 7.3, 3, 2, 7.7,
  3, 0.5, 2, 3, 7.7, 7.7, 3, 6.5, 2, 1.2, 1, 9.3, 3, 7.3, 2, 3.2,
  2, 1, 2, 4.5, 2, 0.5, 1, 2, 2, 3.2, 1, 1, 1, 1, 1, 1,
  1, 1, 1, 1, 3.2, 1, 1, 0.5, 0.5, 0.5,
];

const xTicks = [0, 10, 20, 30, 40, 50, 60, 70, 80, 90];
const xMinorTicks = [5, 15, 25, 35, 45, 55, 65, 75, 85];

const BLUE = "#0b1db2";
const RED = "#ff0000";
const FONT = "'Liberation Sans', Arial, Helvetica, sans-serif";

const byTheta = (a: [number, number], b: [number, number]) => a[0] - b[0];

export default function App() {
  const W = 2104, H = 1827;
  const L = 130, R = 2028, T = 49, MID = 349, B = 1576;

  const x = d3.scaleLinear().domain([0, 90]).range([L, R]);
  const y = d3.scaleLinear().domain([0, 913]).range([B, MID]);
  const yTop = d3.scaleLinear().domain([0, 100]).range([MID, 101.5]);
  const yBot = d3.scaleLinear().domain([0, 100]).range([B, 1329]);

  const line = d3.line<[number, number]>().x((d) => x(d[0])).y((d) => y(d[1]));
  const s2 = [...sample2, ...sample2Fine].sort(byTheta);
  const s1 = [...sample1, ...sample1Fine].sort(byTheta);

  const tri = (cx: number, cy: number) =>
    `M${cx - 14.5},${cy - 11.5}L${cx + 14.5},${cy - 11.5}L${cx},${cy + 11.5}Z`;

  const hklSize = 62;
  const capH = hklSize * 0.716;
  const labelLen = 3 * 0.556 * hklSize;

  return (
    <svg width={W} height={H} viewBox={`0 0 ${W} ${H}`}
      style={{ position: "absolute", left: 0, top: 0, background: "#fff" }}
      fontFamily={FONT} fontWeight="bold">
      <defs>
        <clipPath id="topPanel"><rect x={L} y={T} width={R - L} height={MID - T} /></clipPath>
        <clipPath id="botPanel"><rect x={L} y={MID} width={R - L} height={B - MID} /></clipPath>
      </defs>

      {/* dashed guides from the reference to sample 2 */}
      <g clipPath="url(#botPanel)">
        {co3o4Theta.map((t, i) =>
          co3o4DashTo[i] == null ? null : (
            <line key={"d" + i} x1={x(t)} x2={x(t)} y1={MID} y2={y(co3o4DashTo[i] as number)}
              stroke="#3545a8" strokeWidth={2} strokeDasharray="12 8" />
          ))}
      </g>

      {/* patterns */}
      <g clipPath="url(#botPanel)" fill="none" strokeLinejoin="round">
        <path d={line(s2) || ""} stroke={BLUE} strokeWidth={2.1} />
        <path d={line(s1) || ""} stroke={RED} strokeWidth={2.1} />
      </g>

      {/* Co2(OH)2CO3 sticks */}
      <g clipPath="url(#botPanel)">
        {hydroTheta.map((t, i) => (
          <g key={"h" + i}>
            <line x1={x(t)} x2={x(t)} y1={B} y2={yBot(hydroInt[i])} stroke={RED} strokeWidth={2.2} />
            <path d={tri(x(t), yBot(hydroInt[i]))} fill={RED} />
          </g>
        ))}
      </g>

      {/* Co3O4 sticks */}
      <g clipPath="url(#topPanel)">
        {co3o4Theta.map((t, i) => (
          <g key={"c" + i}>
            <line x1={x(t)} x2={x(t)} y1={MID} y2={yTop(co3o4Int[i])} stroke={BLUE} strokeWidth={2.2} />
            <path d={tri(x(t), yTop(co3o4Int[i]))} fill={BLUE} />
          </g>
        ))}
      </g>

      {/* hkl labels */}
      {co3o4Theta.map((t, i) => {
        if (!co3o4Hkl[i]) return null;
        const top = yTop(co3o4Int[i]) - 11.5;
        const start = top - 14;
        if (start - labelLen < T + 8) {
          // no room above: put it beside the stick, hanging from the frame
          const bx = x(t) - 40 + capH / 2;
          return (
            <text key={"l" + i} transform={`translate(${bx},${T + 14}) rotate(-90)`} textAnchor="end"
              fill={BLUE} fontSize={hklSize}>{co3o4Hkl[i]}</text>
          );
        }
        return (
          <text key={"l" + i} transform={`translate(${x(t) + capH / 2},${start}) rotate(-90)`} textAnchor="start"
            fill={BLUE} fontSize={hklSize}>{co3o4Hkl[i]}</text>
        );
      })}

      {/* reference titles */}
      <text x={1993} y={117} textAnchor="end" fill={BLUE} fontSize={71}>
        <tspan>Co</tspan>
        <tspan fontSize={40} dy={12}>3</tspan>
        <tspan dy={-12}>O</tspan>
        <tspan fontSize={40} dy={12}>4</tspan>
        <tspan dy={-12}>{" Cubic #00-043-1003"}</tspan>
      </text>
      <text x={2003} y={1430} textAnchor="end" fill={RED} fontSize={72}>
        <tspan>Co</tspan>
        <tspan fontSize={40} dy={13}>2</tspan>
        <tspan dy={-13}>(OH)</tspan>
        <tspan fontSize={40} dy={13}>2</tspan>
        <tspan dy={-13}>(CO</tspan>
        <tspan fontSize={40} dy={13}>3</tspan>
        <tspan dy={-13}>{") #01-079-7085"}</tspan>
      </text>

      {/* curve numbers */}
      <text x={1745} y={648} textAnchor="middle" fill={BLUE} fontSize={108}>2</text>
      <text x={1745} y={1134} textAnchor="middle" fill={RED} fontSize={106}>1</text>

      {/* frame */}
      <rect x={L} y={T} width={R - L} height={B - T} fill="none" stroke="#000" strokeWidth={4} />
      <line x1={L} x2={R} y1={MID} y2={MID} stroke="#000" strokeWidth={4} />

      {/* x axis */}
      {xTicks.map((t) => (
        <g key={"t" + t}>
          <line x1={x(t)} x2={x(t)} y1={B} y2={B + 30} stroke="#000" strokeWidth={4} />
          <text x={x(t)} y={1680} textAnchor="middle" fontSize={66} fill="#000">{t}</text>
        </g>
      ))}
      {xMinorTicks.map((t) => (
        <line key={"m" + t} x1={x(t)} x2={x(t)} y1={B} y2={B + 14} stroke="#000" strokeWidth={4} />
      ))}
      <text x={1175} y={1768} textAnchor="middle" fontSize={80} fill="#000">2 Theta (degrees)</text>
      <text transform="translate(88,835) rotate(-90)" textAnchor="middle" fontSize={78} fill="#000">
        Intensity (arb. un.)
      </text>
    </svg>
  );
}
